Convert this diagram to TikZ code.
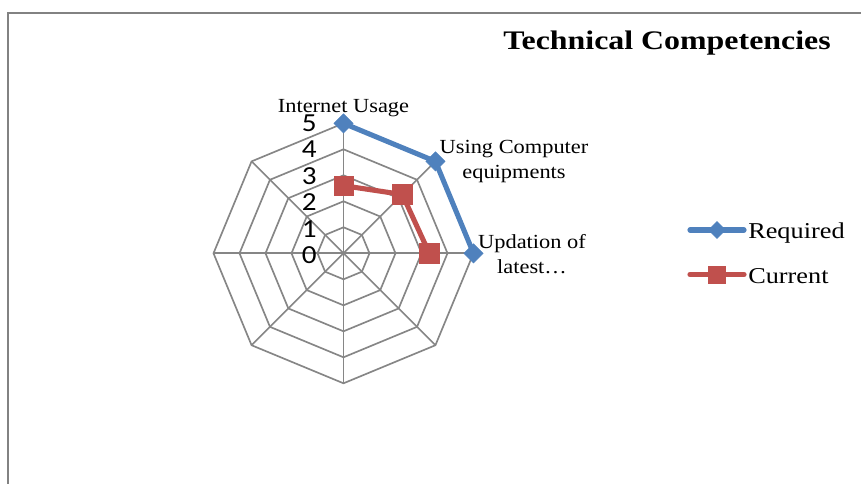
\documentclass[tikz,border=0pt]{standalone}
\usepackage{fontspec}
\usetikzlibrary{shapes.geometric}
\setmainfont{Liberation Serif}
\newfontfamily\labfont{Liberation Serif}[FakeStretch=1.12]
\newfontfamily\legfont{Liberation Serif}[FakeStretch=1.16]
\newfontfamily\titfont{Liberation Serif}[FakeStretch=1.19]
\newfontfamily\digfont{Carlito}[FakeStretch=1.12]
\definecolor{gridgray}{RGB}{134,134,134}
\definecolor{framegray}{RGB}{130,130,130}
\definecolor{reqblue}{RGB}{79,129,189}
\definecolor{curred}{RGB}{192,80,77}
\begin{document}
\begin{tikzpicture}[x=0.75pt,y=-0.75pt,
  gridline/.style={draw=gridgray,line width=1.25pt},
  reqline/.style={draw=reqblue,line width=3.8pt,line join=round,line cap=round},
  curline/.style={draw=curred,line width=3.8pt,line join=round,line cap=round},
  reqmark/.style={shape=diamond,fill=reqblue,draw=reqblue,line width=0.5pt,inner sep=0pt,minimum width=14.5pt,minimum height=14.5pt,aspect=1},
  curmark/.style={shape=rectangle,fill=curred,draw=curred,line width=0.5pt,inner sep=0pt,minimum size=14.5pt},
  axlabel/.style={font=\labfont\fontsize{15pt}{18.75pt}\selectfont,inner sep=0pt,align=center},
  diglabel/.style={font=\digfont\fontsize{19.5pt}{20pt}\selectfont,inner sep=0pt,anchor=base east},
  leglabel/.style={font=\legfont\fontsize{17pt}{20pt}\selectfont,inner sep=0pt,anchor=base west}
]
\useasboundingbox (0,0) rectangle (861,483);
\begin{scope}
\clip (0,0) rectangle (861,483);
\draw[draw=framegray,line width=1.6pt] (8.3,500) -- (8.3,12.7) -- (880,12.7);
\end{scope}

% title
\node[font=\titfont\bfseries\fontsize{20.1pt}{24pt}\selectfont,inner sep=0pt,anchor=base west] (title) at (503,49.3) {Technical Competencies};

% radar grid
\coordinate (O) at (343.5,253.3);
\foreach \k in {1,...,5}{
  \draw[gridline] ({343.5+26*\k*cos(90)},{253.3-26*\k*sin(90)})
    \foreach \a in {45,0,-45,-90,-135,-180,-225}{ -- ({343.5+26*\k*cos(\a)},{253.3-26*\k*sin(\a)}) } -- cycle;
}
\foreach \i/\a in {1/90,2/45,3/0,4/-45,5/-90,6/-135,7/-180,8/-225}{
  \coordinate (ax\i) at ({343.5+130*cos(\a)},{253.3-130*sin(\a)});
  \draw[gridline] (O) -- (ax\i);
}

% scale labels
\foreach \k in {0,...,5}{
  \node[diglabel] (d\k) at (317,{255.5-26.5*\k+8.2}) {\k};
}

% axis labels
\node[axlabel,anchor=base] (l1) at (343.5,112.7) {Internet Usage};
\node[axlabel,anchor=base] (l2) at (514,178.3) {Using Computer\\equipments};
\node[axlabel,anchor=base] (l3) at (532,273.3) {Updation of\\latest…};

% data points
\coordinate (r1) at (343.5,123.3);
\coordinate (r2) at ({343.5+130*cos(45)},{253.3-130*sin(45)});
\coordinate (r3) at (473.5,253.3);
\coordinate (c1) at (343.5,{253.3-26*2.6});
\coordinate (c2) at ({343.5+26*3.2*cos(45)},{253.3-26*3.2*sin(45)});
\coordinate (c3) at ({343.5+26*3.3},253.3);

\draw[reqline] (r1) -- (r2) -- (r3);
\draw[curline] (c1) -- (c2) -- (c3);
\foreach \p in {r1,r2,r3}{ \node[reqmark] (m\p) at (\p) {}; }
\foreach \p in {c1,c2,c3}{ \node[curmark] (m\p) at (\p) {}; }

% legend
\coordinate (lra) at (690,230);
\coordinate (lrb) at (744,230);
\coordinate (lca) at (690,274.5);
\coordinate (lcb) at (744,274.5);
\draw[reqline,line width=3.9pt] (lra) -- (lrb);
\draw[curline,line width=3.9pt] (lca) -- (lcb);
\node[reqmark,minimum width=12.8pt,minimum height=12.8pt] (lrm) at (717,230) {};
\node[curmark,minimum size=13pt] (lcm) at (717,275) {};
\node[leglabel] (lrt) at (748,238.3) {Required};
\node[leglabel] (lct) at (748,283.3) {Current};
\end{tikzpicture}
\end{document}
